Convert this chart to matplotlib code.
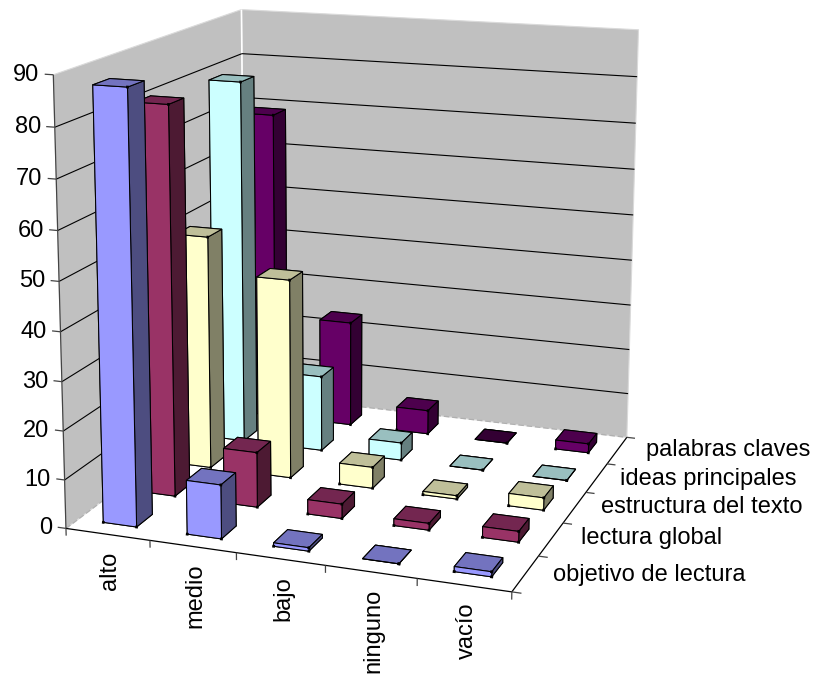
import numpy as np
import matplotlib
matplotlib.use("Agg")
import matplotlib.pyplot as plt
from mpl_toolkits.mplot3d import proj3d
from mpl_toolkits.mplot3d.art3d import Poly3DCollection, Line3DCollection

categories = ["alto", "medio", "bajo", "ninguno", "vacío"]
series_names = ["objetivo de lectura", "lectura global", "estructura del texto",
                "ideas principales", "palabras claves"]
objetivo = [87.5, 11, 0.7, 0, 1]
lectura = [81, 11.5, 3, 1.4, 2.2]
estructura = [50, 42.5, 4.5, 0.7, 2.6]
ideas = [79.4, 16.5, 3.8, 0, 0]
palabras = [69, 23.5, 5.3, 0, 2]
values = [objetivo, lectura, estructura, ideas, palabras]
front_colors = ["#9999FF", "#993366", "#FFFFCC", "#CCFFFF", "#660066"]
top_colors = ["#7373BF", "#732650", "#BFBF99", "#99BFBF", "#4D004D"]
side_colors = ["#4D4D80", "#4D1A33", "#808066", "#668080", "#330033"]
z_ticks = list(range(0, 100, 10))

W, H = 816, 676
plt.rcParams["font.family"] = ["Liberation Sans", "DejaVu Sans"]
fig = plt.figure(figsize=(W / 100, H / 100), dpi=100)
ax = fig.add_axes([0, 0, 1, 1], projection="3d", computed_zorder=False)
ax.set_axis_off()
ax.patch.set_visible(False)

# Camera calibrated from the chart frame: data box corner -> image pixel
frame = [((0, 0, 0), (68, 529)), ((5, 0, 0), (511, 592)), ((5, 5, 0), (628, 437)),
         ((0, 5, 0), (243, 393)), ((0, 0, 90), (52, 74)), ((0, 5, 90), (243, 10)),
         ((5, 5, 90), (638, 30))]
A = []
for (x, y, z), (u, v) in frame:
    z_ = z / 18.0
    A.append([x, y, z_, 1, 0, 0, 0, 0, -u * x, -u * y, -u * z_, -u])
    A.append([0, 0, 0, 0, x, y, z_, 1, -v * x, -v * y, -v * z_, -v])
P = np.linalg.svd(np.array(A, float))[2][-1].reshape(3, 4)
P[:, 2] /= 18.0
P /= P[2, 3]
M = np.array([P[0], P[1], [0, 0, 0, -1.0], P[2]], float)
ax.get_proj = lambda: M
ax.M = M
ax.apply_aspect = lambda position=None: None
ax.viewLim.intervalx = (0, W)
ax.viewLim.intervaly = (H, 0)


def project(x, y, z):
    u, v, _ = proj3d.proj_transform(x, y, z, M)
    return float(u), float(v)


def lines3d(segments, color, lw, zorder, ls="solid"):
    coll = Line3DCollection(segments, colors=color, linewidths=lw, linestyles=ls, zorder=zorder)
    ax.add_collection3d(coll)


nx, ny, ztop = len(categories), len(series_names), z_ticks[-1]
wall = Poly3DCollection(
    [[(0, 0, 0), (0, ny, 0), (0, ny, ztop), (0, 0, ztop)],
     [(0, ny, 0), (nx, ny, 0), (nx, ny, ztop), (0, ny, ztop)]],
    facecolors="#C0C0C0", edgecolors="#DADADA", linewidths=0.8, zorder=1)
ax.add_collection3d(wall)
lines3d([[(0, ny, 0), (0, ny, ztop)]], "white", 1.2, 2)

grid = []
for z in z_ticks[1:-1]:
    grid.append([(0, 0, z), (0, ny, z)])
    grid.append([(0, ny, z), (nx, ny, z)])
lines3d(grid, "black", 0.8, 2)
lines3d([[(0, ny, 0), (nx, ny, 0)], [(0, 0, 0), (0, ny, 0)]], "#B0B0B0", 1.0, 2, ls=(0, (4, 2)))
lines3d([[(0, 0, 0), (0, 0, ztop)]], "#444444", 0.9, 2)
lines3d([[(0, 0, 0), (nx, 0, 0)], [(nx, 0, 0), (nx, ny, 0)]], "black", 0.9, 2)

ticks = [[(-0.1, 0, z), (0, 0, z)] for z in z_ticks]
ticks += [[(i, 0, 0), (i, 0, -1.5)] for i in range(nx + 1)]
ticks += [[(nx, j, 0), (nx + 0.1, j, 0)] for j in range(ny + 1)]
lines3d(ticks, "#444444", 0.9, 2)

for z in z_ticks:
    u, v = project(0, 0, z)
    ax.text2D(u - 14, v, str(z), transform=ax.transData, ha="right", va="center",
              fontsize=17, color="black")

for i, name in enumerate(categories):
    u, v = project(i + 0.5, 0, 0)
    ax.text2D(u + 2.5, v + 17, name, transform=ax.transData, rotation=90, ha="center", va="top",
              fontsize=17, color="black")
label_offsets = [(28, 1), (30, -1), (26, 0), (23, 1), (29, 0)]
for j, name in enumerate(series_names):
    u, v = project(nx, j + 0.5, 0)
    du, dv = label_offsets[j]
    ax.text2D(u + du, v + dv, name, transform=ax.transData, ha="left", va="center",
              fontsize=17, color="black")

order = 10
bar_w, gap = 0.4, 0.3
dot = 0.016
for j in range(ny - 1, -1, -1):
    for i in range(nx):
        h = values[j][i]
        x0, y0 = i + gap, j + gap
        x1 = x0 + bar_w
        cols = [side_colors[j], top_colors[j], front_colors[j], side_colors[j],
                side_colors[j], side_colors[j]]
        ax.bar3d([x0], [y0], [0], [bar_w], [bar_w], [h], color=cols, shade=False,
                 edgecolor="black", linewidth=0.75, zorder=order)
        order += 1
        corners = [(x1, y0, 0), (x1, y0, h)]
        if h > 0:
            corners.append((x0, y0, 0))
        lines3d([[(cx - dot, cy, cz), (cx + dot, cy, cz)] for cx, cy, cz in corners],
                "black", 2.0, order)
        order += 1

fig.savefig("out.png", dpi=100)
